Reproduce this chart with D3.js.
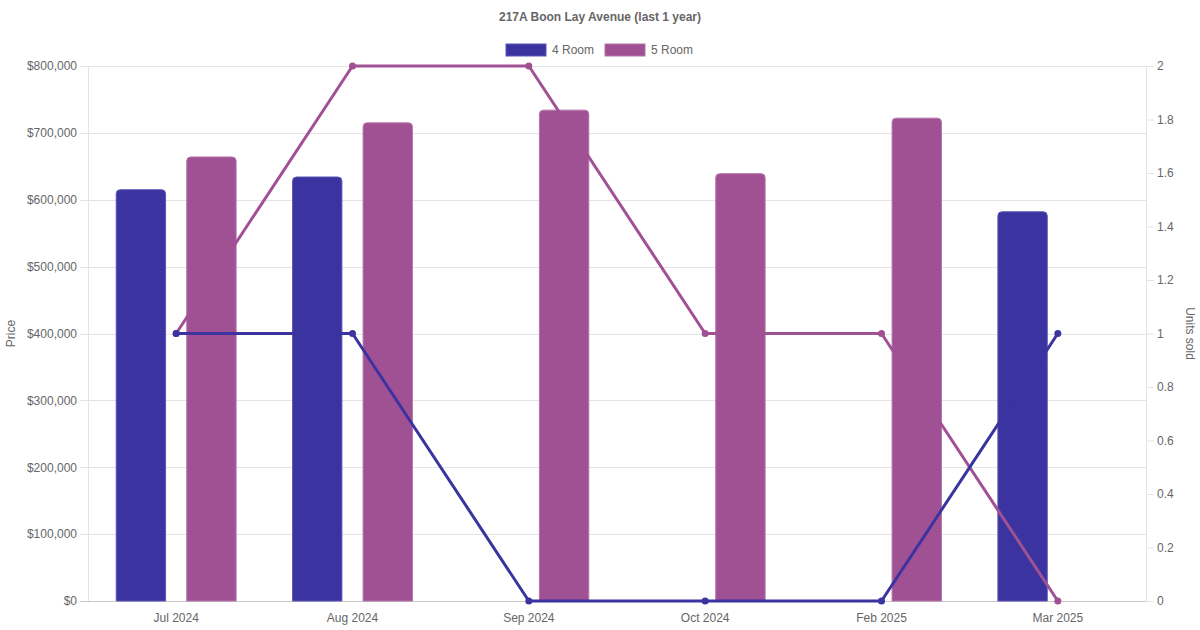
<!DOCTYPE html>
<html>
<head>
<meta charset="utf-8">
<script src="https://cdn.jsdelivr.net/npm/d3@7"></script>
<style>
    body { margin: 0; background: #fff; }
    svg { font-family: "Liberation Sans", Arial, Helvetica, sans-serif; }
</style>
</head>
<body>
<div id="chart"></div>
<script>
// months on the x axis
var months = ["Jul 2024", "Aug 2024", "Sep 2024", "Oct 2024", "Feb 2025", "Mar 2025"];

// average price per month (null = no sale)
var price4Room = [615000, 634000, null, null, null, 582000];
var price5Room = [664000, 715000, 734000, 639000, 722000, null];

// units sold per month
var units4Room = [1, 1, 0, 0, 0, 1];
var units5Room = [1, 2, 2, 1, 1, 0];

var priceTicks = [0, 100000, 200000, 300000, 400000, 500000, 600000, 700000, 800000];
var unitTicks = [0, 0.2, 0.4, 0.6, 0.8, 1, 1.2, 1.4, 1.6, 1.8, 2];

var seriesNames = ["4 Room", "5 Room"];
var colors = { "4 Room": "#3a33a0", "5 Room": "#a05193" };
var borders = { "4 Room": "#5d57b6", "5 Room": "#b574a9" };

function drawChart() {
    var w = 1200, h = 630;
    var margin = { top: 66, right: 54, bottom: 29, left: 88 };
    var width = w - margin.left - margin.right;
    var height = h - margin.top - margin.bottom;

    var root = d3.select("#chart").append("svg")
        .attr("width", w)
        .attr("height", h);

    // --- Title & legend ---
    root.append("text")
        .attr("x", w / 2).attr("y", 21)
        .attr("text-anchor", "middle")
        .style("font-size", "12px")
        .style("font-weight", "bold")
        .style("fill", "#666")
        .text("217A Boon Lay Avenue (last 1 year)");

    var legendX = [506, 605];
    seriesNames.forEach(function (name, i) {
        var g = root.append("g").attr("transform", `translate(${legendX[i]},44)`);
        g.append("rect")
            .attr("width", 40).attr("height", 12)
            .attr("fill", colors[name])
            .attr("stroke", borders[name]).attr("stroke-width", 1);
        g.append("text")
            .attr("x", 46).attr("y", 10)
            .style("font-size", "12px")
            .style("fill", "#666")
            .text(name);
    });

    var svg = root.append("g")
        .attr("transform", `translate(${margin.left},${margin.top})`);

    // --- Scales ---
    var xScale = d3.scaleBand()
        .domain(months)
        .range([0, width]);

    // chart.js style grouping: categoryPercentage 0.8, barPercentage 0.7
    var groupW = xScale.bandwidth() * 0.8;
    var slotW = groupW / 2;
    var barW = slotW * 0.7;

    var yPrice = d3.scaleLinear().domain([0, 800000]).range([height, 0]);
    var yUnits = d3.scaleLinear().domain([0, 2]).range([height, 0]);

    // --- Grid ---
    svg.append("g")
        .selectAll("line")
        .data(priceTicks)
        .enter().append("line")
        .attr("x1", -8).attr("x2", width)
        .attr("y1", d => Math.round(yPrice(d)) + 0.5)
        .attr("y2", d => Math.round(yPrice(d)) + 0.5)
        .attr("stroke", d => d === 0 ? "#c8c8c8" : "#e4e4e4")
        .attr("stroke-width", 1);

    svg.append("line")
        .attr("x1", 0.5).attr("x2", 0.5)
        .attr("y1", 0).attr("y2", height)
        .attr("stroke", "#e4e4e4");

    svg.append("line")
        .attr("x1", width + 0.5).attr("x2", width + 0.5)
        .attr("y1", 0).attr("y2", height)
        .attr("stroke", "#e4e4e4");

    // --- Axes ---
    var leftAxis = svg.append("g")
        .call(d3.axisLeft(yPrice)
            .tickValues(priceTicks)
            .tickSize(0)
            .tickPadding(11)
            .tickFormat(d => "$" + d3.format(",")(d)));

    var rightAxis = svg.append("g")
        .attr("transform", `translate(${width},0)`)
        .call(d3.axisRight(yUnits)
            .tickValues(unitTicks)
            .tickSize(8)
            .tickPadding(3)
            .tickFormat(d => d3.format("~g")(d)));

    var bottomAxis = svg.append("g")
        .attr("transform", `translate(0,${height})`)
        .call(d3.axisBottom(xScale).tickSize(0).tickPadding(12));

    [leftAxis, rightAxis, bottomAxis].forEach(function (ax) {
        ax.select(".domain").remove();
        ax.selectAll("text")
            .style("font-size", "12px")
            .style("font-family", "'Liberation Sans', Arial, sans-serif")
            .style("fill", "#666");
        ax.selectAll(".tick line").attr("stroke", "#e4e4e4");
    });

    svg.append("text")
        .attr("transform", "rotate(-90)")
        .attr("x", -height / 2)
        .attr("y", -73)
        .attr("text-anchor", "middle")
        .style("font-size", "12px")
        .style("fill", "#666")
        .text("Price");

    svg.append("text")
        .attr("transform", `translate(${width + 40},${height / 2}) rotate(90)`)
        .attr("text-anchor", "middle")
        .style("font-size", "12px")
        .style("fill", "#666")
        .text("Units sold");

    // --- Bars ---
    var priceSeries = [
        { name: "4 Room", values: price4Room },
        { name: "5 Room", values: price5Room }
    ];

    // bar with rounded top corners only
    function barPath(x, y, bw, bh, r) {
        r = Math.min(r, bw / 2, bh);
        return `M${x},${y + bh}V${y + r}Q${x},${y} ${x + r},${y}H${x + bw - r}Q${x + bw},${y} ${x + bw},${y + r}V${y + bh}Z`;
    }

    priceSeries.forEach(function (s, si) {
        var bars = months.map((m, i) => ({ month: m, value: s.values[i] }))
            .filter(d => d.value !== null);
        svg.append("g")
            .selectAll("path")
            .data(bars)
            .enter().append("path")
            .attr("d", function (d) {
                var cx = xScale(d.month) + xScale.bandwidth() / 2 - groupW / 2 + slotW * si + slotW / 2;
                var top = yPrice(d.value);
                return barPath(cx - barW / 2, top, barW, height - top, 4);
            })
            .attr("fill", colors[s.name])
            .attr("stroke", borders[s.name])
            .attr("stroke-width", 1);
    });

    // --- Lines (drawn over the bars) ---
    var unitSeries = [
        { name: "5 Room", values: units5Room },
        { name: "4 Room", values: units4Room }
    ];

    var line = d3.line()
        .x((d, i) => xScale(months[i]) + xScale.bandwidth() / 2)
        .y(d => yUnits(d));

    unitSeries.forEach(function (s) {
        svg.append("path")
            .datum(s.values)
            .attr("d", line)
            .attr("fill", "none")
            .attr("stroke", colors[s.name])
            .attr("stroke-width", 3)
            .attr("stroke-linejoin", "round");

        svg.append("g")
            .selectAll("circle")
            .data(s.values)
            .enter().append("circle")
            .attr("cx", (d, i) => xScale(months[i]) + xScale.bandwidth() / 2)
            .attr("cy", d => yUnits(d))
            .attr("r", 3.5)
            .attr("fill", colors[s.name]);
    });
}

drawChart();
</script>
</body>
</html>
